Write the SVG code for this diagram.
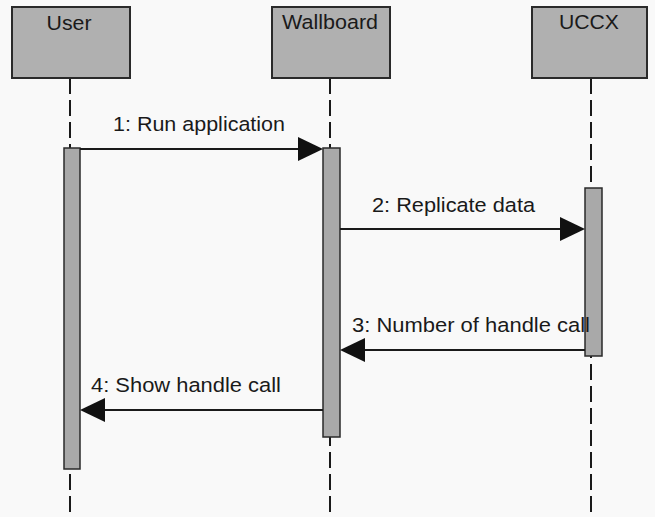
<svg xmlns="http://www.w3.org/2000/svg" width="655" height="517" viewBox="0 0 655 517">
  <style>
    .box { fill: #b0b0b0; stroke: #2a2a2a; stroke-width: 2; }
    .bar { fill: #a9a9a9; stroke: #2a2a2a; stroke-width: 1.5; }
    .life { stroke: #1a1a1a; stroke-width: 2; stroke-dasharray: 16 6; fill: none; }
    .msg { stroke: #1a1a1a; stroke-width: 2; fill: none; }
    .head { fill: #111; }
    text { font-family: "Liberation Sans", Arial, sans-serif; fill: #1a1a1a; }
    .title { font-size: 20.5px; text-anchor: middle; }
    .lbl { font-size: 20.5px; }
  </style>
  <rect width="655" height="517" fill="#f9f9f9"/>

  <g id="lifelines">
    <line class="life" x1="70" y1="78" x2="70" y2="517"/>
    <line class="life" x1="330" y1="78" x2="330" y2="517"/>
    <line class="life" x1="591" y1="78" x2="591" y2="517"/>
  </g>

  <g id="node-user">
    <rect class="box" x="12" y="7" width="118" height="71"/>
    <text class="title" x="69" y="30" textLength="45" lengthAdjust="spacingAndGlyphs">User</text>
    <rect class="bar" x="64" y="148" width="16" height="321"/>
  </g>

  <g id="node-wallboard">
    <rect class="box" x="272" y="7" width="118" height="71"/>
    <text class="title" x="330" y="29" textLength="96" lengthAdjust="spacingAndGlyphs">Wallboard</text>
    <rect class="bar" x="323" y="148" width="17" height="289"/>
  </g>

  <g id="node-uccx">
    <rect class="box" x="532" y="7" width="115" height="71"/>
    <text class="title" x="589" y="29" textLength="60" lengthAdjust="spacingAndGlyphs">UCCX</text>
    <rect class="bar" x="585" y="188" width="17" height="168"/>
  </g>

  <g id="connectors">
    <line class="msg" x1="80" y1="149" x2="300" y2="149"/>
    <polygon class="head" points="323,149 298,137 298,161"/>
    <text class="lbl" x="113" y="131" textLength="172" lengthAdjust="spacingAndGlyphs">1: Run application</text>

    <line class="msg" x1="340" y1="229" x2="562" y2="229"/>
    <polygon class="head" points="585,229 560,217 560,241"/>
    <text class="lbl" x="372" y="212" textLength="163" lengthAdjust="spacingAndGlyphs">2: Replicate data</text>

    <line class="msg" x1="585" y1="350" x2="363" y2="350"/>
    <polygon class="head" points="340,350 365,338 365,362"/>
    <text class="lbl" x="352" y="332" textLength="238" lengthAdjust="spacingAndGlyphs">3: Number of handle call</text>

    <line class="msg" x1="323" y1="410" x2="103" y2="410"/>
    <polygon class="head" points="80,410 105,398 105,422"/>
    <text class="lbl" x="91" y="392" textLength="190" lengthAdjust="spacingAndGlyphs">4: Show handle call</text>
  </g>
</svg>
